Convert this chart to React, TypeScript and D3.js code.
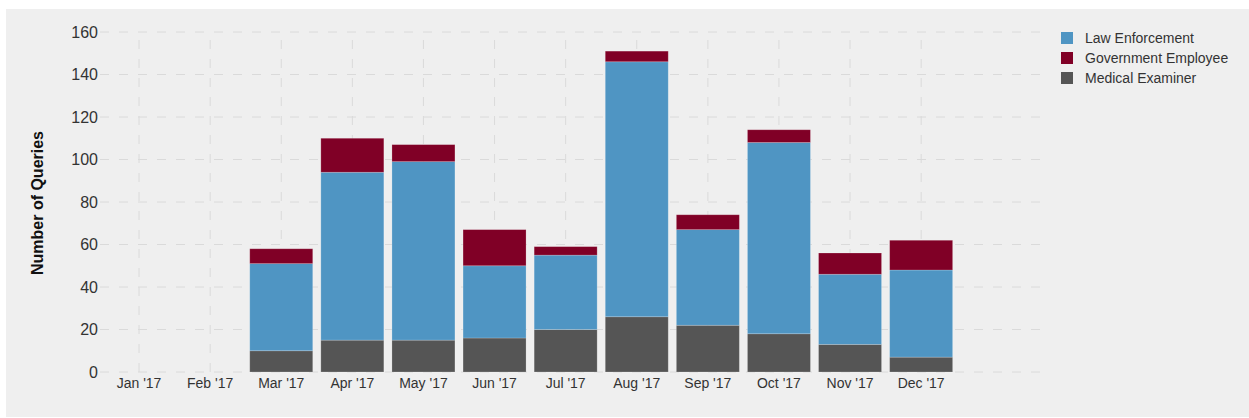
import React, { useEffect, useRef } from "react";
import * as d3 from "d3";

const months = ["Jan '17", "Feb '17", "Mar '17", "Apr '17", "May '17", "Jun '17", "Jul '17", "Aug '17", "Sep '17", "Oct '17", "Nov '17", "Dec '17"];
const medicalExaminer = [0, 0, 10, 15, 15, 16, 20, 26, 22, 18, 13, 7];
const lawEnforcement = [0, 0, 41, 79, 84, 34, 35, 120, 45, 90, 33, 41];
const governmentEmployee = [0, 0, 7, 16, 8, 17, 4, 5, 7, 6, 10, 14];
const yTicks = [0, 20, 40, 60, 80, 100, 120, 140, 160];

const seriesNames = ["Law Enforcement", "Government Employee", "Medical Examiner"];
const seriesColors: Record<string, string> = {
  "Medical Examiner": "#555555",
  "Law Enforcement": "#4f95c3",
  "Government Employee": "#800026",
};

const W = 1249;
const H = 418;

export default function App() {
  const ref = useRef<SVGSVGElement>(null);

  useEffect(() => {
    const svg = d3.select(ref.current);
    svg.selectAll("*").remove();
    const font = "'Liberation Sans', Arial, Helvetica, sans-serif";

    svg.append("rect").attr("x", 6).attr("y", 9).attr("width", W - 6).attr("height", 408).attr("fill", "#efefef");

    const x = d3.scaleBand<string>().domain(months).range([103.5, 956.7]).paddingInner(0.114).paddingOuter(0.057);
    const y = d3.scaleLinear().domain([0, 160]).range([372, 32]);

    const grid = svg.append("g");
    yTicks.forEach((t) => {
      grid.append("line")
        .attr("x1", 100).attr("x2", 1040)
        .attr("y1", y(t)).attr("y2", y(t))
        .attr("stroke", "#dadada").attr("stroke-width", 1)
        .attr("stroke-dasharray", "9,10");
    });
    months.forEach((m) => {
      const cx = (x(m) as number) + x.bandwidth() / 2;
      grid.append("line")
        .attr("x1", cx).attr("x2", cx)
        .attr("y1", y(160)).attr("y2", y(0))
        .attr("stroke", "#dadada").attr("stroke-width", 1)
        .attr("stroke-dasharray", "9,10")
        .attr("stroke-dashoffset", -8);
    });

    const rows = months.map((m, i) => ({
      month: m,
      "Medical Examiner": medicalExaminer[i],
      "Law Enforcement": lawEnforcement[i],
      "Government Employee": governmentEmployee[i],
    }));
    const stack = d3.stack<any>().keys(["Medical Examiner", "Law Enforcement", "Government Employee"]);
    const layers = stack(rows);

    layers.forEach((layer) => {
      svg.append("g").selectAll("rect")
        .data(layer.filter((d) => d[1] - d[0] > 0))
        .join("rect")
        .attr("x", (d) => x(d.data.month) as number)
        .attr("width", x.bandwidth())
        .attr("y", (d) => y(d[1]))
        .attr("height", (d) => y(d[0]) - y(d[1]))
        .attr("fill", seriesColors[layer.key])
        .attr("stroke", "rgba(255,255,255,0.25)")
        .attr("stroke-width", 0.8);
    });

    const yAxis = svg.append("g");
    yTicks.forEach((t) => {
      yAxis.append("text")
        .attr("x", 98).attr("y", y(t)).attr("dy", "0.36em")
        .attr("text-anchor", "end")
        .attr("font-family", font).attr("font-size", 16)
        .attr("fill", "#333").text(String(t));
    });

    const xAxis = svg.append("g");
    months.forEach((m) => {
      xAxis.append("text")
        .attr("x", (x(m) as number) + x.bandwidth() / 2).attr("y", 388)
        .attr("text-anchor", "middle")
        .attr("font-family", font).attr("font-size", 14)
        .attr("fill", "#333").text(m);
    });

    svg.append("text")
      .attr("transform", "translate(43,203) rotate(-90)")
      .attr("text-anchor", "middle")
      .attr("font-family", font).attr("font-size", 16).attr("font-weight", "bold")
      .attr("fill", "#111").text("Number of Queries");

    const legend = svg.append("g");
    seriesNames.forEach((name, i) => {
      legend.append("rect")
        .attr("x", 1061).attr("y", 32 + i * 20)
        .attr("width", 12).attr("height", 12)
        .attr("fill", seriesColors[name]);
      legend.append("text")
        .attr("x", 1085).attr("y", 43 + i * 20)
        .attr("font-family", font).attr("font-size", 14)
        .attr("fill", "#333").text(name);
    });
  }, []);

  return (
    <div style={{ position: "absolute", left: 0, top: 0 }}>
      <svg ref={ref} width={W} height={H} style={{ display: "block" }} />
    </div>
  );
}
